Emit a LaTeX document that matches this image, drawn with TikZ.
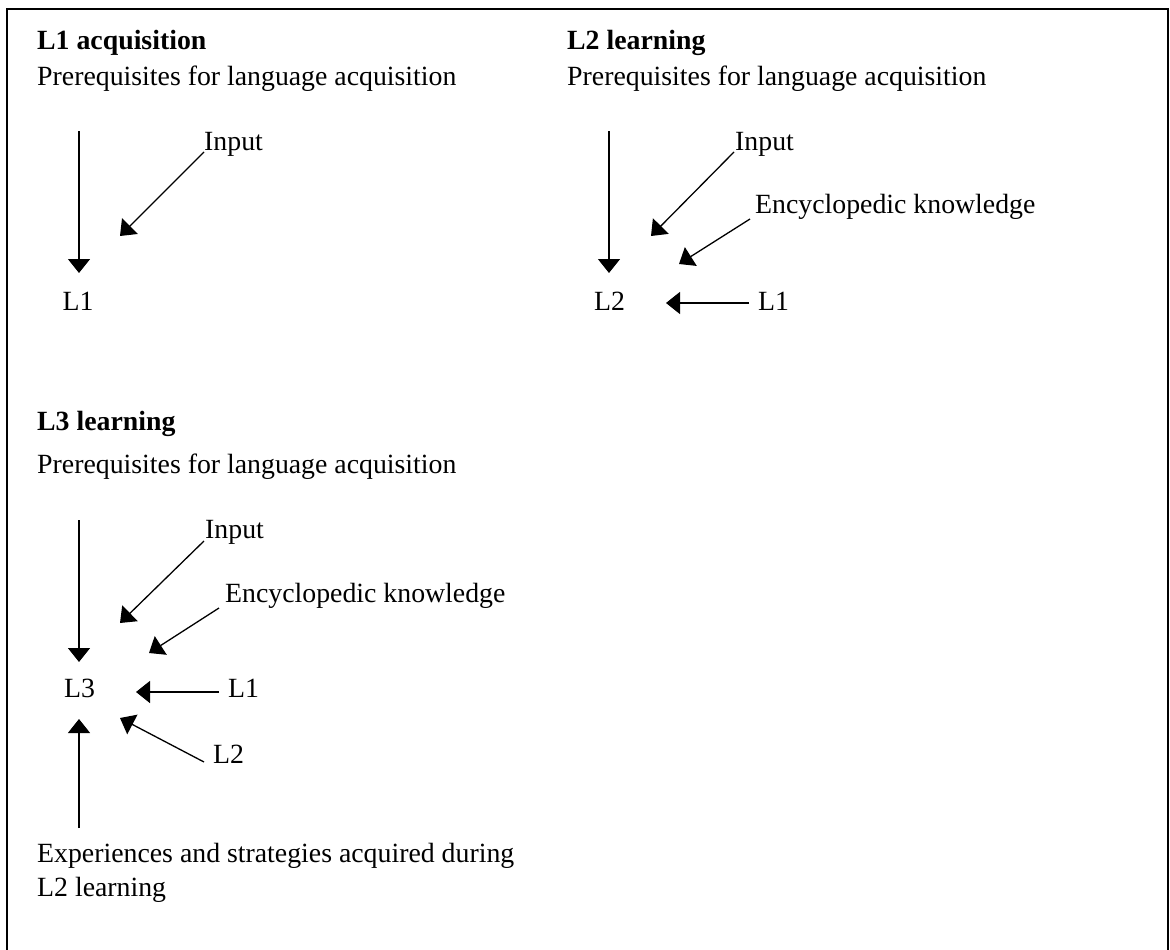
\documentclass[tikz,border=0pt]{standalone}
\usepackage{fontspec}
\setmainfont{Liberation Serif}
\usetikzlibrary{arrows.meta}
\begin{document}
\begin{tikzpicture}[x=1pt,y=-1pt,
  txt/.style={anchor=base west,inner sep=0pt,font=\fontsize{27.8}{33}\selectfont},
  hd/.style={txt,font=\fontsize{27.8}{33}\selectfont\bfseries},
  arr/.style={line width=1.3pt,-{Triangle[width=22pt,length=14pt]}},
  frame/.style={line width=1.6pt}]
\useasboundingbox (0,0) rectangle (1170,950);
% frame
\draw[frame] (7,950) -- (7,9) -- (1054,9);
\draw[line width=2.6pt] (1054,9) -- (1168,9) -- (1168,950);

% ---------- L1 acquisition ----------
\node[hd] (h1) at (37,50) {L1 acquisition};
\node[txt] (p1) at (37,85) {Prerequisites for language acquisition};
\node[txt] (a1in) at (204,150) {Input};
\node[txt,anchor=base] (a1L1) at (78,310) {L1};
\coordinate (a1vs) at (79,131);
\coordinate (a1vt) at (79,273);
\coordinate (a1is) at (204,152);
\coordinate (a1it) at (120,236);
\draw[arr] (a1vs) -- (a1vt);
\draw[arr] (a1is) -- (a1it);

% ---------- L2 learning ----------
\node[hd] (h2) at (567,50) {L2 learning};
\node[txt] (p2) at (567,85) {Prerequisites for language acquisition};
\node[txt] (b2in) at (735,150) {Input};
\node[txt] (b2en) at (755,213) {Encyclopedic knowledge};
\node[txt] (b2L2) at (594,310) {L2};
\node[txt] (b2L1) at (758,310) {L1};
\coordinate (b2vs) at (609,131);
\coordinate (b2vt) at (609,273);
\coordinate (b2is) at (734,152);
\coordinate (b2it) at (651,236);
\coordinate (b2es) at (750,219);
\coordinate (b2et) at (679,264);
\coordinate (b2ls) at (749,303);
\coordinate (b2lt) at (666,303);
\draw[arr] (b2vs) -- (b2vt);
\draw[arr] (b2is) -- (b2it);
\draw[arr] (b2es) -- (b2et);
\draw[arr] (b2ls) -- (b2lt);

% ---------- L3 learning ----------
\node[hd] (h3) at (37,430) {L3 learning};
\node[txt] (p3) at (37,473) {Prerequisites for language acquisition};
\node[txt] (c3in) at (205,538) {Input};
\node[txt] (c3en) at (225,602) {Encyclopedic knowledge};
\node[txt] (c3L3) at (64,697) {L3};
\node[txt] (c3L1) at (228,697) {L1};
\node[txt] (c3L2) at (213,763) {L2};
\node[txt] (c3ex) at (37,862) {Experiences and strategies acquired during};
\node[txt] (c3ex2) at (37,896) {L2 learning};
\coordinate (c3vs) at (79,520);
\coordinate (c3vt) at (79,662);
\coordinate (c3is) at (204,541);
\coordinate (c3it) at (120,623);
\coordinate (c3es) at (219,608);
\coordinate (c3et) at (149,653);
\coordinate (c3ls) at (219,692);
\coordinate (c3lt) at (136,692);
\coordinate (c3ms) at (204,762);
\coordinate (c3mt) at (120,718);
\coordinate (c3us) at (79,828);
\coordinate (c3ut) at (79,719);
\draw[arr] (c3vs) -- (c3vt);
\draw[arr] (c3is) -- (c3it);
\draw[arr] (c3es) -- (c3et);
\draw[arr] (c3ls) -- (c3lt);
\draw[arr] (c3ms) -- (c3mt);
\draw[arr] (c3us) -- (c3ut);
\end{tikzpicture}
\end{document}
